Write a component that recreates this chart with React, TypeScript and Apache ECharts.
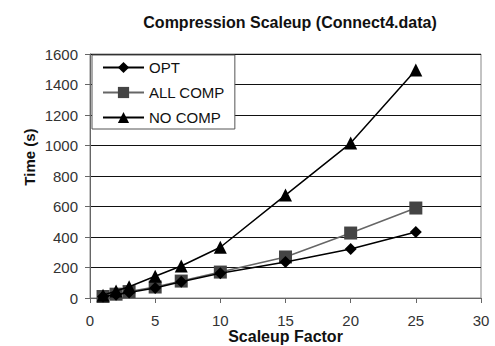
import React, { useEffect, useRef } from "react";
import * as echarts from "echarts";

const scaleup = [1, 2, 3, 5, 7, 10, 15, 20, 25];
const optTimes = [10, 22, 36, 66, 107, 162, 236, 321, 433];
const allCompTimes = [10, 25, 42, 72, 111, 170, 269, 426, 590];
const noCompTimes = [18, 46, 74, 143, 210, 333, 675, 1016, 1495];
const seriesNames = ["OPT", "ALL COMP", "NO COMP"];
const yAxisTitle = "Time (s)";
const xAxisTitle = "Scaleup Factor";
const chartTitle = "Compression Scaleup (Connect4.data)";

const font = "Liberation Sans, Arial, sans-serif";

export default function App() {
  const ref = useRef<HTMLDivElement>(null);
  useEffect(() => {
    const chart = echarts.init(ref.current!, null, { renderer: "svg" });
    const pair = (ys: number[]) => scaleup.map((x, i) => [x, ys[i]]);
    chart.setOption({
      animation: false,
      backgroundColor: "#fff",
      title: {
        text: chartTitle,
        left: 285,
        textAlign: "center",
        top: 9,
        textStyle: { fontFamily: font, fontSize: 16, fontWeight: "bold", color: "#111" },
      },
      grid: {
        left: 90,
        right: 14,
        top: 54,
        bottom: 48,
        show: true,
        borderColor: "#888",
        borderWidth: 1,
        containLabel: false,
        outerBoundsMode: "none",
      },
      legend: {
        orient: "vertical",
        left: 92,
        top: 55,
        padding: [5, 10, 4, 10],
        itemGap: 10,
        itemWidth: 41,
        itemHeight: 14,
        borderColor: "#555",
        borderWidth: 1,
        backgroundColor: "#fff",
        textStyle: { fontFamily: font, fontSize: 15, color: "#111" },
        data: seriesNames,
      },
      graphic: [
        {
          type: "text",
          x: 29,
          y: 157,
          rotation: Math.PI / 2,
          style: {
            text: yAxisTitle,
            fontFamily: font,
            fontSize: 15,
            fontWeight: "bold",
            fill: "#111",
            textAlign: "center",
            textVerticalAlign: "middle",
          },
        },
      ],
      xAxis: {
        type: "value",
        min: 0,
        max: 30,
        interval: 5,
        name: xAxisTitle,
        nameLocation: "middle",
        nameGap: 30,
        nameMoveOverlap: false,
        nameTextStyle: { fontFamily: font, fontSize: 16, fontWeight: "bold", color: "#111" },
        axisLine: { show: true, lineStyle: { color: "#666" } },
        axisTick: { show: true, inside: false, length: 5, lineStyle: { color: "#666" } },
        axisLabel: { fontFamily: font, fontSize: 15, color: "#333", margin: 15 },
        splitLine: { show: false },
      },
      yAxis: {
        type: "value",
        min: 0,
        max: 1600,
        interval: 200,
        axisLine: { show: true, lineStyle: { color: "#666" } },
        axisTick: { show: true, length: 5, lineStyle: { color: "#666" } },
        axisLabel: { fontFamily: font, fontSize: 15, color: "#333", margin: 12, formatter: (v: number) => String(v) },
        splitLine: { show: true, lineStyle: { color: "#111", width: 1 } },
      },
      series: [
        {
          name: seriesNames[0],
          type: "line",
          data: pair(optTimes),
          symbol: "diamond",
          symbolSize: 12,
          lineStyle: { color: "#000", width: 1.5 },
          itemStyle: { color: "#000" },
          z: 3,
        },
        {
          name: seriesNames[1],
          type: "line",
          data: pair(allCompTimes),
          symbol: "rect",
          symbolSize: 13,
          lineStyle: { color: "#666", width: 1.5 },
          itemStyle: { color: "#444" },
          z: 2,
        },
        {
          name: seriesNames[2],
          type: "line",
          data: pair(noCompTimes),
          symbol: "triangle",
          symbolSize: 13,
          lineStyle: { color: "#000", width: 1.5 },
          itemStyle: { color: "#000" },
          z: 4,
        },
      ],
    });
    return () => chart.dispose();
  }, []);
  return <div ref={ref} style={{ width: 495, height: 346, position: "absolute", left: 0, top: 0 }} />;
}
